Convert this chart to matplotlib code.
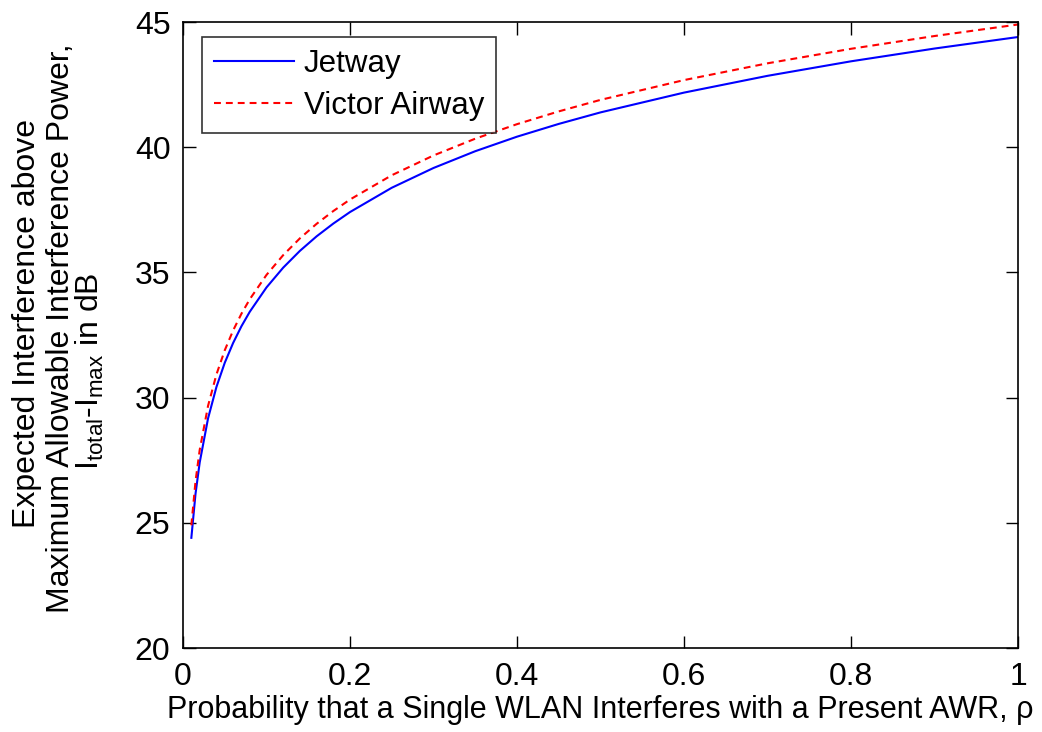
import matplotlib
matplotlib.use("Agg")
import matplotlib.pyplot as plt

FONT = 'Liberation Sans'
plt.rcParams['font.family'] = [FONT, 'DejaVu Sans']
plt.rcParams['mathtext.fontset'] = 'custom'
plt.rcParams['mathtext.rm'] = FONT
plt.rcParams['mathtext.it'] = FONT

rho = [0.01, 0.015, 0.02, 0.03, 0.04, 0.05, 0.06, 0.07, 0.08, 0.10, 0.12, 0.14, 0.16,
       0.18, 0.20, 0.25, 0.30, 0.35, 0.40, 0.45, 0.50, 0.60, 0.70, 0.80, 0.90, 1.00]
jetway = [24.40, 26.16, 27.41, 29.17, 30.42, 31.39, 32.18, 32.85, 33.43, 34.40, 35.19,
          35.86, 36.44, 36.95, 37.41, 38.38, 39.17, 39.84, 40.42, 40.93, 41.39, 42.18,
          42.85, 43.43, 43.94, 44.40]
victor = [24.90, 26.66, 27.91, 29.67, 30.92, 31.89, 32.68, 33.35, 33.93, 34.90, 35.69,
          36.36, 36.94, 37.45, 37.91, 38.88, 39.67, 40.34, 40.92, 41.43, 41.89, 42.68,
          43.35, 43.93, 44.44, 44.90]
xticks = [0, 0.2, 0.4, 0.6, 0.8, 1]
xticklabels = ['0', '0.2', '0.4', '0.6', '0.8', '1']
yticks = [20, 25, 30, 35, 40, 45]

fig = plt.figure(figsize=(10.42, 7.32), dpi=100)
ax = fig.add_axes([183/1042, 1-648/732, (1018-183)/1042, (648-22)/732])
ax.plot(rho, jetway, color='#0000ff', lw=1.5, label='Jetway')
ax.plot(rho, victor, color='#ff0000', lw=1.5, ls=(0, (3.3, 2.4)), label='Victor Airway')
ax.set_xlim(0, 1)
ax.set_ylim(20, 45)
ax.set_xticks(xticks)
ax.set_xticklabels(xticklabels)
ax.set_yticks(yticks)
ax.tick_params(direction='in', length=9, width=1, labelsize=23, top=True, right=True)
ax.tick_params(axis='y', pad=9)
ax.tick_params(axis='x', pad=10)
for s in ax.spines.values():
    s.set_linewidth(1.2)

ax.set_xlabel('Probability that a Single WLAN Interferes with a Present AWR, ρ', fontsize=22, labelpad=2)

fig.text(27/1042, 1-324/732, 'Expected Interference above', rotation=90, ha='center', va='center', fontsize=23)
fig.text(61/1042, 1-328/732, 'Maximum Allowable Interference Power,', rotation=90, ha='center', va='center', fontsize=23)
fig.text(90/1042, 1-371/732, r'$\mathregular{I_{total}}$-$\mathregular{I_{max}}$ in dB', rotation=90, ha='center', va='center', fontsize=23)

leg = ax.legend(loc='upper left', bbox_to_anchor=(202/1042, 1-37/732), bbox_transform=fig.transFigure,
                fontsize=22.5, frameon=True, fancybox=False, edgecolor='black', handlelength=2.55,
                borderpad=0.38, labelspacing=0.4, handletextpad=0.33, borderaxespad=0)
leg.get_frame().set_linewidth(1.2)

fig.savefig('out.png', dpi=100)
